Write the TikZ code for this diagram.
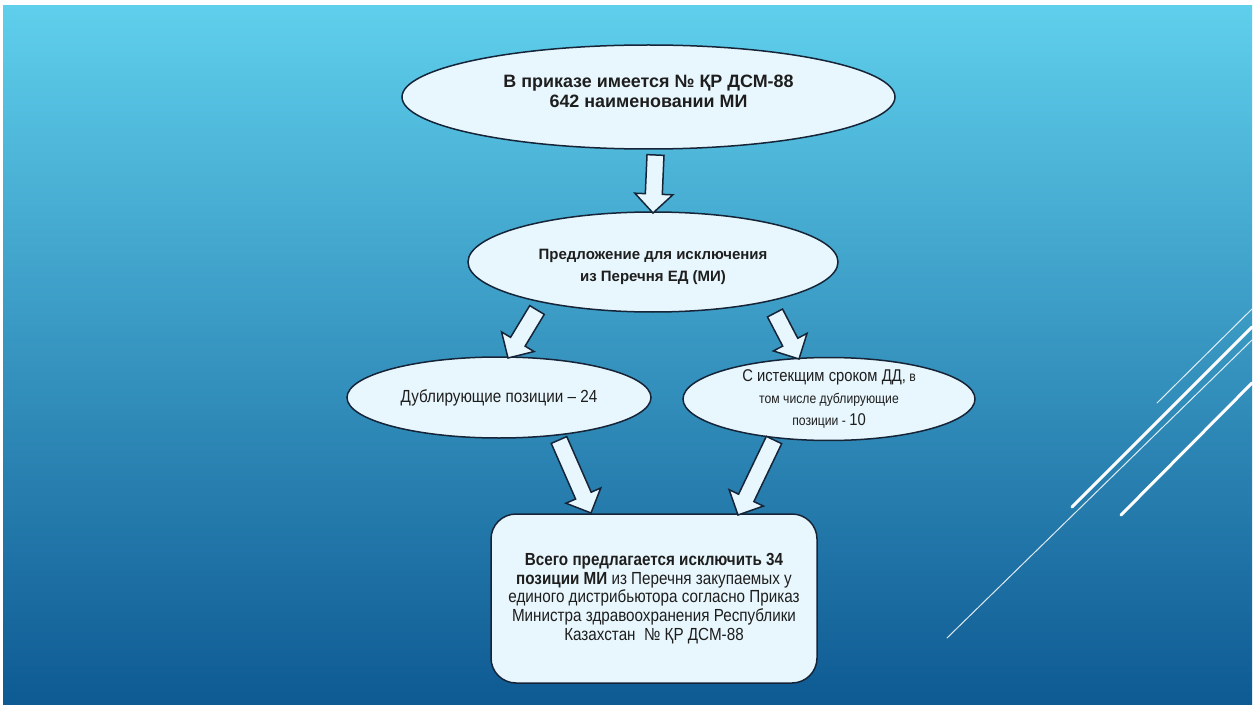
\documentclass[tikz,border=0pt]{standalone}
\usepackage{fontspec}
\setmainfont{Liberation Sans}
\newfontfamily\narrowfont{Liberation Sans}[FakeStretch=0.87]
\usetikzlibrary{shapes.geometric,calc}
\definecolor{bgtop}{RGB}{95,207,236}
\definecolor{bgmid}{RGB}{46,152,200}
\definecolor{bgbot}{RGB}{14,90,147}
\definecolor{shapefill}{RGB}{232,247,253}
\definecolor{shapeline}{RGB}{22,36,56}
\definecolor{txt}{RGB}{30,30,30}
\tikzset{
  ell/.style={ellipse, draw=shapeline, fill=shapefill, line width=0.75pt, inner sep=0pt, align=center, text=txt},
  lbl/.style={inner sep=0pt, align=center, text=txt},
  roundbox/.style={rectangle, rounded corners=12.5pt, draw=shapeline, fill=shapefill, line width=0.75pt, inner sep=0pt, align=center, text=txt},
  barrow/.style={draw=shapeline, fill=shapefill, line width=0.75pt, line join=miter},
  deco/.style={draw=white, line cap=round}
}
\newcommand{\blockarrow}[2]{%
  \coordinate (hb) at ($(#2)!9.5pt!(#1)$);
  \draw[barrow] ($(#1)!4.25pt!90:(#2)$) -- ($(hb)!4.25pt!90:(#2)$) -- ($(hb)!9.5pt!90:(#2)$) -- (#2)
     -- ($(hb)!9.5pt!-90:(#2)$) -- ($(hb)!4.25pt!-90:(#2)$) -- ($(#1)!4.25pt!-90:(#2)$) -- cycle;}
\begin{document}
\begin{tikzpicture}[x=0.5pt,y=-0.5pt]
\useasboundingbox (0,0) rectangle (1254,706);
\fill[white] (0,0) rectangle (1254,706);
\shade[top color=bgtop, middle color=bgmid, bottom color=bgbot] (3,6) rectangle (1252,704);
% decorative lines
\draw[deco, line width=0.5pt, opacity=0.85] (1157,403) -- (1252,309);
\draw[deco, line width=1.5pt] (1072,507) -- (1252,327);
\draw[deco, line width=0.5pt, opacity=0.85] (947,638) -- (1252,340);
\draw[deco, line width=1.5pt] (1121,515) -- (1252,383);
% nodes
\node[ell, minimum width=246.5pt, minimum height=52pt] (e1) at (648.5,97) {};
\node[lbl, font=\bfseries\fontsize{8.95pt}{10pt}\selectfont] (t1) at (648.5,91)
  {В приказе имеется № ҚР ДСМ-88\\642 наименовании МИ};
\node[ell, minimum width=185pt, minimum height=50pt] (e2) at (653,262) {};
\node[lbl, font=\bfseries\fontsize{7.5pt}{11pt}\selectfont] (t2) at (653,267)
  {Предложение для исключения\\из Перечня ЕД (МИ)};
\node[ell, minimum width=152pt, minimum height=40.5pt, font=\narrowfont\fontsize{8.75pt}{10pt}\selectfont] (e3) at (499,397.5)
  {Дублирующие позиции – 24};
\node[ell, minimum width=146pt, minimum height=39pt, font=\narrowfont\fontsize{7pt}{11pt}\selectfont] (e4) at (829,399)
  {{\fontsize{8.5pt}{11pt}\selectfont С истекщим сроком ДД,} в\\том числе дублирующие\\позиции - {\fontsize{8.5pt}{11pt}\selectfont 10}};
\node[roundbox, minimum width=163pt, minimum height=84.5pt, font=\narrowfont\fontsize{8.75pt}{9.35pt}\selectfont] (box) at (654,598.5)
  {\textbf{Всего предлагается исключить 34}\\\textbf{позиции МИ} из Перечня закупаемых у\\единого дистрибьютора согласно Приказ\\Министра здравоохранения Республики\\Казахстан~~№ ҚР ДСМ-88};
% arrow end points
\coordinate (a1s) at (655.5,155); \coordinate (a1e) at (653,213);
\coordinate (a2s) at (537,310);   \coordinate (a2e) at (508,358);
\coordinate (a3s) at (775,313);   \coordinate (a3e) at (799,359);
\coordinate (a4s) at (559,440);   \coordinate (a4e) at (591,513);
\coordinate (a5s) at (774,440);   \coordinate (a5e) at (738,515);
\blockarrow{a1s}{a1e}
\blockarrow{a2s}{a2e}
\blockarrow{a3s}{a3e}
\blockarrow{a4s}{a4e}
\blockarrow{a5s}{a5e}
\end{tikzpicture}
\end{document}
